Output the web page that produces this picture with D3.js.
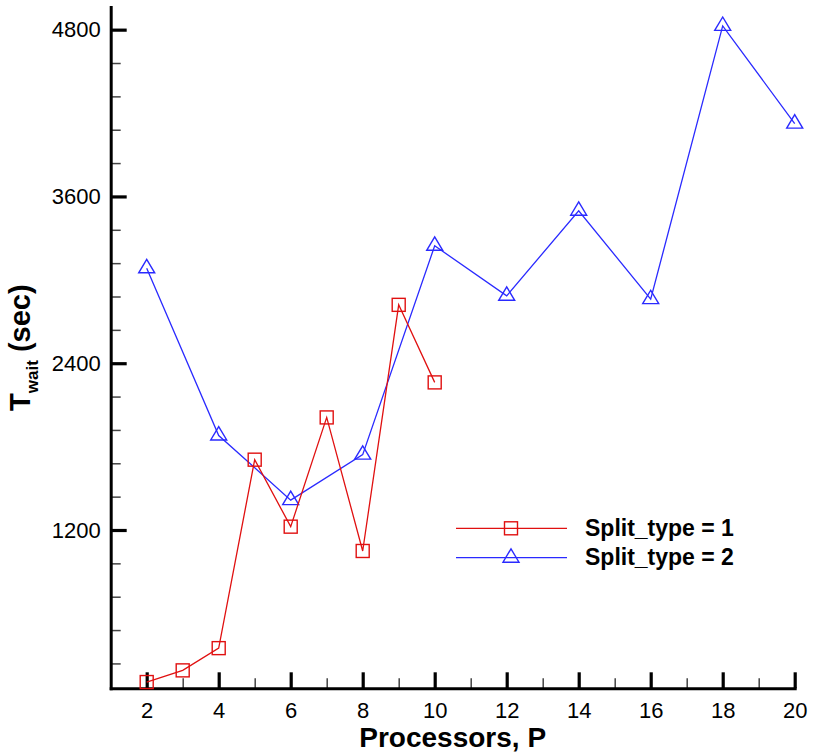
<!DOCTYPE html>
<html>
<head>
<meta charset="utf-8">
<script src="https://cdn.jsdelivr.net/npm/d3@7"></script>
<style>
  body { margin: 0; background: #fff; }
  text { font-family: "Liberation Sans", Arial, Helvetica, sans-serif; }
  .tick text { font-size: 22px; fill: #000; }
  .title { font-size: 28px; font-weight: bold; }
  .legend { font-size: 23px; font-weight: bold; }
</style>
</head>
<body>
<div id="chart"></div>
<script>
// data
let procs1 = [2, 3, 4, 5, 6, 7, 8, 9, 10];
let wait1 = [106, 190, 350, 1706, 1224, 2010, 1049, 2820, 2262];
let procs2 = [2, 4, 6, 8, 10, 12, 14, 16, 18, 20];
let wait2 = [3083, 1880, 1415, 1742, 3245, 2885, 3497, 2861, 4827, 4124];
let xMajor = [2, 4, 6, 8, 10, 12, 14, 16, 18, 20];
let xMinor = [3, 5, 7, 9, 11, 13, 15, 17, 19];
let yMajor = [1200, 2400, 3600, 4800];
let yMinor = [240, 480, 720, 960, 1440, 1680, 1920, 2160, 2640, 2880, 3120, 3360, 3840, 4080, 4320, 4560];
let seriesNames = ['Split_type = 1', 'Split_type = 2'];

let width = 815, height = 753;
let pLeft = 110.7, pRight = 794.7, pTop = 7, pBottom = 688.3;

let svg = d3.select('#chart').append('svg')
    .attr('width', width)
    .attr('height', height);

let x = d3.scaleLinear().domain([1, 20]).range([pLeft, pRight]);
let y = d3.scaleLinear().domain([61, 4963]).range([pBottom, pTop]);

// minor ticks
let mx = svg.append('g')
    .attr('transform', 'translate(0,' + pBottom + ')')
    .call(d3.axisBottom(x).tickValues(xMinor).tickSize(-10).tickFormat(''));
let my = svg.append('g')
    .attr('transform', 'translate(' + pLeft + ',0)')
    .call(d3.axisLeft(y).tickValues(yMinor).tickSize(-10).tickFormat(''));
[mx, my].forEach(g => {
    g.select('.domain').remove();
    g.selectAll('line').style('stroke', '#444').style('stroke-width', '1.5px');
});

// major ticks + axis lines
let ax = svg.append('g')
    .attr('transform', 'translate(0,' + pBottom + ')')
    .call(d3.axisBottom(x).tickValues(xMajor).tickSize(-16).tickSizeOuter(0).tickPadding(14));
let ay = svg.append('g')
    .attr('transform', 'translate(' + pLeft + ',0)')
    .call(d3.axisLeft(y).tickValues(yMajor).tickFormat(d3.format('d'))
        .tickSize(-16).tickSizeOuter(0).tickPadding(10));
[ax, ay].forEach(g => {
    g.select('.domain').style('stroke', '#000').style('stroke-width', '3px').attr('stroke-linecap', 'square');
    g.selectAll('.tick line').style('stroke', '#000').style('stroke-width', '3.2px');
});

let sq = 13;
let tri = function(cx, cy) {
    return 'M' + cx + ',' + (cy - 8.9) + 'L' + (cx + 8) + ',' + (cy + 4.5) + 'L' + (cx - 8) + ',' + (cy + 4.5) + 'Z';
};

let line = d3.line().x(d => x(d[0])).y(d => y(d[1]));
let data1 = procs1.map((p, i) => [p, wait1[i]]);
let data2 = procs2.map((p, i) => [p, wait2[i]]);

let plot = svg.append('g');
plot.append('path').datum(data2) // Split_type = 2 line
    .attr('fill', 'none')
    .attr('stroke', '#2a2aff')
    .attr('stroke-width', 1.3)
    .attr('d', line);
plot.selectAll('.tri').data(data2).enter().append('path')
    .attr('fill', 'none')
    .attr('stroke', '#2a2aff')
    .attr('stroke-width', 1.4)
    .attr('d', d => tri(x(d[0]), y(d[1])));
plot.append('path').datum(data1) // Split_type = 1 line
    .attr('fill', 'none')
    .attr('stroke', '#e01010')
    .attr('stroke-width', 1.3)
    .attr('d', line);
plot.selectAll('.sq').data(data1).enter().append('rect')
    .attr('fill', 'none')
    .attr('stroke', '#e01010')
    .attr('stroke-width', 1.4)
    .attr('x', d => x(d[0]) - sq / 2)
    .attr('y', d => y(d[1]) - sq / 2)
    .attr('width', sq)
    .attr('height', sq);

// legend
let lg = svg.append('g');
lg.append('line').attr('x1', 456).attr('x2', 567).attr('y1', 528.3).attr('y2', 528.3)
    .attr('stroke', '#e01010').attr('stroke-width', 1.3);
lg.append('rect').attr('x', 511 - sq / 2).attr('y', 528.3 - sq / 2).attr('width', sq).attr('height', sq)
    .attr('fill', 'none').attr('stroke', '#e01010').attr('stroke-width', 1.4);
lg.append('line').attr('x1', 456).attr('x2', 567).attr('y1', 557.7).attr('y2', 557.7)
    .attr('stroke', '#2a2aff').attr('stroke-width', 1.3);
lg.append('path').attr('d', tri(511, 557.7))
    .attr('fill', 'none').attr('stroke', '#2a2aff').attr('stroke-width', 1.4);
lg.selectAll('.legend').data(seriesNames).enter().append('text')
    .attr('class', 'legend')
    .attr('x', 585)
    .attr('y', (d, i) => 536 + i * 29.4)
    .text(d => d);

// axis titles
svg.append('text')
    .attr('class', 'title')
    .attr('x', (pLeft + pRight) / 2)
    .attr('y', 747)
    .attr('text-anchor', 'middle')
    .text('Processors, P');
let yt = svg.append('text')
    .attr('class', 'title')
    .style('font-size', '29px')
    .attr('text-anchor', 'middle')
    .attr('transform', 'translate(30,' + ((pTop + pBottom) / 2) + ') rotate(-90)');
yt.append('tspan').text('T');
yt.append('tspan').attr('dy', 8).style('font-size', '17px').text('wait');
yt.append('tspan').attr('dy', -8).text(' (sec)');
</script>
</body>
</html>
